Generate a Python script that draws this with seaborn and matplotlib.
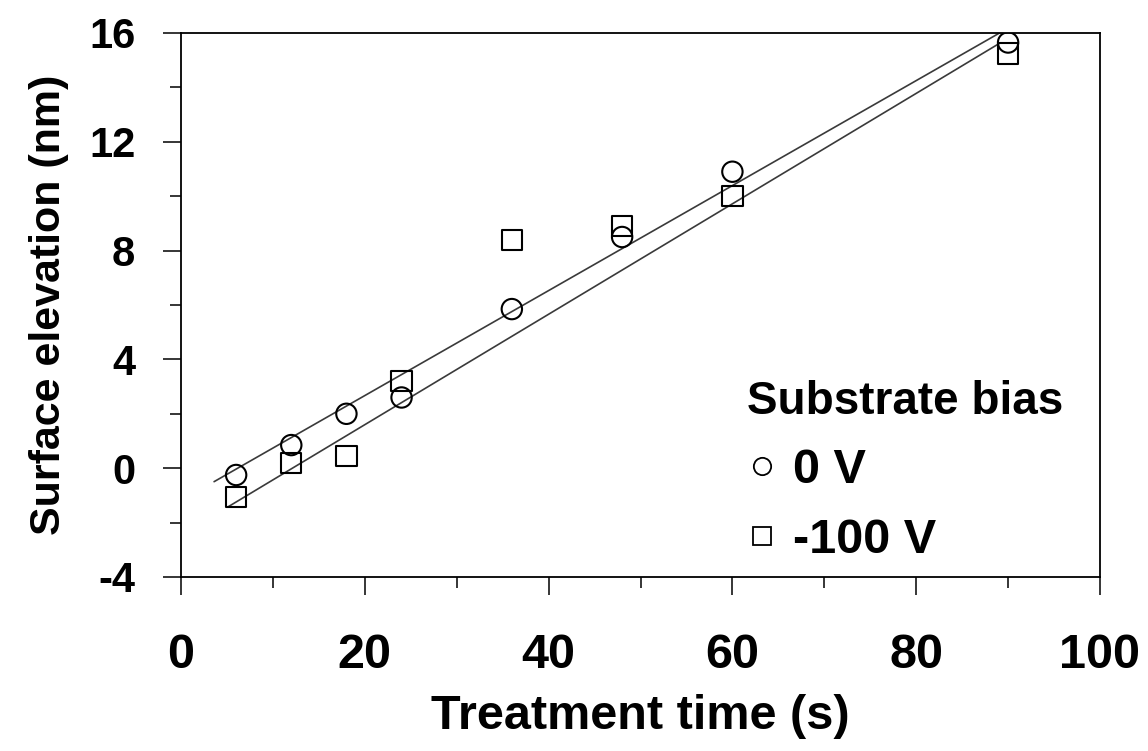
import numpy as np
import pandas as pd
import matplotlib
matplotlib.use("Agg")
import matplotlib.pyplot as plt
from matplotlib.ticker import MultipleLocator
import seaborn as sns

# Measured surface elevation versus treatment time for two substrate biases
treatment_time = [6, 12, 18, 24, 36, 48, 60, 90]
elev_0V = [-0.25, 0.85, 2.0, 2.6, 5.85, 8.5, 10.9, 15.65]
elev_m100V = [-1.05, 0.2, 0.45, 3.2, 8.4, 8.9, 10.0, 15.25]
bias_labels = ["0 V", "-100 V"]

# Linear fits: intercept, slope and plotted time span for each bias
fit_intercept = [-1.19, -2.46]
fit_slope = [0.193, 0.203]
fit_start = [3.6, 5.1]
fit_end = [89.6, 89.0]

sns.set_theme(style="ticks")
plt.rcParams["font.family"] = ["Liberation Sans", "DejaVu Sans"]
plt.rcParams["font.weight"] = "bold"
plt.rcParams["axes.unicode_minus"] = False
for key in ("text.color", "axes.labelcolor", "xtick.color", "ytick.color", "axes.edgecolor"):
    plt.rcParams[key] = "black"

df = pd.DataFrame({
    "time": treatment_time * 2,
    "elev": elev_0V + elev_m100V,
    "bias": [bias_labels[0]] * len(treatment_time) + [bias_labels[1]] * len(treatment_time),
})

fit_rows = []
for lab, b0, b1, xs, xe in zip(bias_labels, fit_intercept, fit_slope, fit_start, fit_end):
    for x in (xs, xe):
        fit_rows.append({"time": x, "elev": b0 + b1 * x, "bias": lab})
fit_df = pd.DataFrame(fit_rows)

fig = plt.figure(figsize=(11.48, 7.51), dpi=100)
ax = fig.add_axes([181 / 1148, 1 - 577 / 751, (1100 - 181) / 1148, (577 - 33) / 751])

sns.lineplot(data=fit_df, x="time", y="elev", units="bias", estimator=None,
             color="#3a3a3a", lw=1.2, ax=ax, legend=False, zorder=2)

sns.scatterplot(data=df, x="time", y="elev", style="bias",
                markers={"0 V": "o", "-100 V": "s"}, s=215,
                facecolor="none", edgecolor="black", linewidth=1.5,
                ax=ax, zorder=3)

ax.set_xlim(0, 100)
ax.set_ylim(-4, 16)
ax.xaxis.set_major_locator(MultipleLocator(20))
ax.xaxis.set_minor_locator(MultipleLocator(10))
ax.yaxis.set_major_locator(MultipleLocator(4))
ax.yaxis.set_minor_locator(MultipleLocator(2))

for s in ax.spines.values():
    s.set_visible(True)
    s.set_linewidth(1.3)
    s.set_color("black")

ax.tick_params(axis="both", which="major", direction="out", length=13, width=1.1, color="black")
ax.tick_params(axis="both", which="minor", direction="out", length=8, width=1.1, color="black")
ax.tick_params(axis="x", which="major", pad=27, labelsize=35, labelcolor="black")
ax.tick_params(axis="y", which="major", pad=20, labelsize=30, labelcolor="black")
for lab in ax.get_xticklabels() + ax.get_yticklabels():
    lab.set_fontweight("bold")

ax.set_xlabel("Treatment time (s)", fontsize=35, fontweight="bold", labelpad=12, color="black")
ax.set_ylabel("Surface elevation (nm)", fontsize=31, fontweight="bold", labelpad=14, color="black")

leg = ax.legend(title="Substrate bias", loc="upper left", bbox_to_anchor=(0.616, 0.362),
                frameon=False, alignment="left", fontsize=35, title_fontsize=33,
                handlelength=0.6, handletextpad=0.35, labelspacing=0.5,
                borderpad=0, borderaxespad=0, markerscale=0.85)
leg.get_title().set_fontweight("bold")
leg.get_title().set_color("black")
for t in leg.get_texts():
    t.set_fontweight("bold")
    t.set_color("black")
for h in leg.legend_handles:
    h.set_markerfacecolor("none")
    h.set_markeredgecolor("black")
    h.set_markeredgewidth(1.3)

fig.savefig("out.png", dpi=100, facecolor="white")
